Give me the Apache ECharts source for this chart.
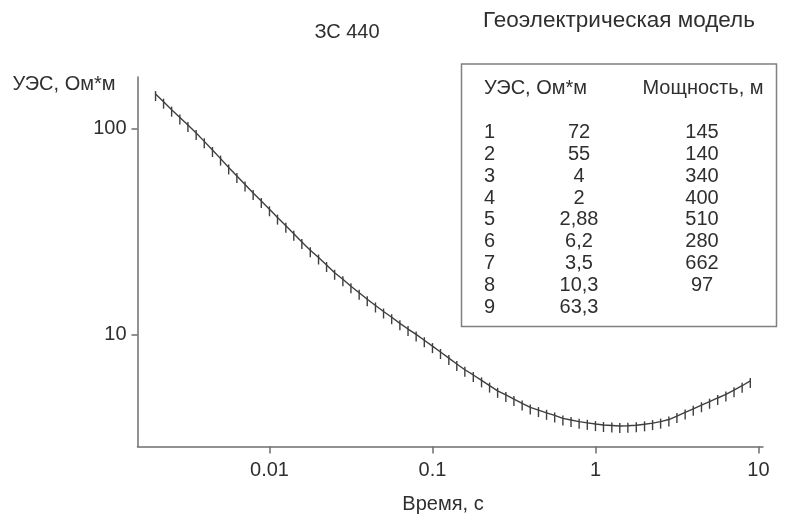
<!DOCTYPE html>
<html>
<head>
<meta charset="utf-8">
<script src="https://cdn.jsdelivr.net/npm/echarts@6/dist/echarts.min.js"></script>
<style>
  html, body { margin: 0; padding: 0; background: #fff; }
  #chart { width: 785px; height: 515px; }
</style>
</head>
<body>
<div id="chart"></div>
<script>
// Sounding ЗС 440: apparent resistivity vs time after turn-off
const timeSec = [
  0.00200, 0.00224, 0.00251, 0.00282, 0.00316, 0.00355, 0.00398, 0.00447, 0.00501, 0.00562,
  0.00631, 0.00708, 0.00794, 0.00891, 0.0100, 0.0112, 0.0126, 0.0141, 0.0158, 0.0178,
  0.0200, 0.0224, 0.0251, 0.0282, 0.0316, 0.0355, 0.0398, 0.0447, 0.0501, 0.0562,
  0.0631, 0.0708, 0.0794, 0.0891, 0.100, 0.112, 0.126, 0.141, 0.158, 0.178,
  0.200, 0.224, 0.251, 0.282, 0.316, 0.355, 0.398, 0.447, 0.501, 0.562,
  0.631, 0.708, 0.794, 0.891, 1.00, 1.12, 1.26, 1.41, 1.58, 1.78,
  2.00, 2.24, 2.51, 2.82, 3.16, 3.55, 3.98, 4.47, 5.01, 5.62,
  6.31, 7.08, 7.94, 8.91
];
const apparentRes = [
  147, 135, 123.5, 113.2, 103.9, 95.2, 86.6, 78.6, 71.4, 64.7,
  58.8, 53.4, 48.6, 44.4, 40.5, 36.9, 33.7, 30.8, 28.1, 25.6,
  23.6, 21.7, 19.9, 18.5, 17.1, 15.9, 14.8, 13.8, 12.9, 12.1,
  11.3, 10.6, 9.98, 9.35, 8.76, 8.20, 7.66, 7.17, 6.72, 6.34,
  5.97, 5.63, 5.31, 5.07, 4.84, 4.61, 4.41, 4.28, 4.15, 4.03,
  3.90, 3.83, 3.76, 3.71, 3.66, 3.62, 3.60, 3.58, 3.59, 3.61,
  3.65, 3.70, 3.76, 3.85, 4.00, 4.17, 4.34, 4.52, 4.70, 4.90,
  5.10, 5.35, 5.62, 5.93
];
const xTickValues = [0.01, 0.1, 1, 10];
const yTickValues = [10, 100];

// Geoelectric model table
const layerNo = ['1', '2', '3', '4', '5', '6', '7', '8', '9'];
const layerRes = ['72', '55', '4', '2', '2,88', '6,2', '3,5', '10,3', '63,3'];
const layerThick = ['145', '140', '340', '400', '510', '280', '662', '97', ''];

const FONT = '"Liberation Sans", Arial, sans-serif';
const TEXT_COLOR = '#2f2f2f';
const LINE_COLOR = '#3f3f3f';
const AXIS_COLOR = '#6e6e6e';

function label(text, x, y, align, size) {
  return {
    type: 'text', x: x, y: y, silent: true,
    style: {
      text: text, fill: TEXT_COLOR, align: align || 'center', verticalAlign: 'middle',
      font: (size || 20) + 'px ' + FONT
    }
  };
}

const graphics = [
  label('ЗС 440', 347, 32),
  label('Геоэлектрическая модель', 619, 21, 'center', 22.5),
  label('УЭС, Ом*м', 64, 84),
  label('Время, с', 443, 504),
  {
    type: 'rect', silent: true,
    shape: { x: 461.5, y: 64, width: 315, height: 262.5 },
    style: { fill: 'none', stroke: '#808080', lineWidth: 1.5 }
  },
  label('УЭС, Ом*м', 484, 88, 'left'),
  label('Мощность, м', 703, 88)
];
const rowTop = 132.7, rowStep = 21.8;
layerNo.forEach(function (n, k) {
  const y = rowTop + rowStep * k;
  graphics.push(label(n, 484, y, 'left'));
  graphics.push(label(layerRes[k], 579, y));
  if (layerThick[k]) graphics.push(label(layerThick[k], 702, y));
});

const chart = echarts.init(document.getElementById('chart'), null, { renderer: 'canvas' });
chart.setOption({
  animation: false,
  backgroundColor: '#fff',
  grid: { left: 137.5, top: 77, right: 22, bottom: 68.5, containLabel: false },
  xAxis: {
    type: 'log', logBase: 10, min: 0.00155, max: 10.66,
    axisLine: { lineStyle: { color: AXIS_COLOR, width: 1.5 } },
    axisTick: { length: 7, lineStyle: { color: AXIS_COLOR, width: 1.5 }, customValues: xTickValues },
    axisLabel: {
      customValues: xTickValues, margin: 14, color: TEXT_COLOR, fontSize: 20, fontFamily: FONT,
      formatter: function (v) { return String(v); }
    },
    splitLine: { show: false },
    minorTick: { show: false }
  },
  yAxis: {
    type: 'log', logBase: 10, min: 2.847, max: 178,
    axisLine: { show: true, lineStyle: { color: AXIS_COLOR, width: 1.5 } },
    axisTick: { show: true, length: 6, lineStyle: { color: AXIS_COLOR, width: 1.5 }, customValues: yTickValues },
    axisLabel: {
      customValues: yTickValues, margin: 11, color: TEXT_COLOR, fontSize: 20, fontFamily: FONT,
      formatter: function (v) { return String(v); }
    },
    splitLine: { show: false }
  },
  series: [{
    type: 'line',
    data: timeSec.map(function (t, i) { return [t, apparentRes[i]]; }),
    showSymbol: true,
    symbol: 'rect',
    symbolSize: [1.4, 10],
    symbolOffset: [0, 2],
    itemStyle: { color: LINE_COLOR },
    lineStyle: { color: LINE_COLOR, width: 1.4 },
    emphasis: { disabled: true }
  }],
  graphic: graphics
});
</script>
</body>
</html>
